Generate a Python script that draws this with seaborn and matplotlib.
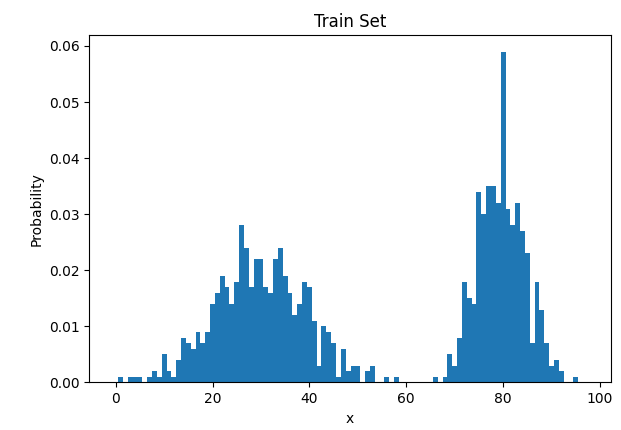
import numpy as np
import matplotlib
matplotlib.use("Agg")
import matplotlib.pyplot as plt
import seaborn as sns

# histogram of the train set, one bin per integer value (bin centres 1..95)
bin_centres = np.arange(1, 96)
probability = [
    0.001, 0.000, 0.001, 0.001, 0.001, 0.000, 0.001, 0.002, 0.001, 0.005,
    0.002, 0.001, 0.004, 0.008, 0.007, 0.006, 0.009, 0.007, 0.009, 0.014,
    0.016, 0.019, 0.017, 0.014, 0.018, 0.028, 0.024, 0.017, 0.022, 0.022,
    0.017, 0.016, 0.022, 0.024, 0.019, 0.016, 0.012, 0.014, 0.018, 0.017,
    0.011, 0.003, 0.010, 0.009, 0.007, 0.001, 0.006, 0.002, 0.003, 0.003,
    0.000, 0.002, 0.003, 0.000, 0.000, 0.001, 0.000, 0.001, 0.000, 0.000,
    0.000, 0.000, 0.000, 0.000, 0.000, 0.001, 0.000, 0.001, 0.005, 0.003,
    0.008, 0.018, 0.015, 0.014, 0.034, 0.030, 0.035, 0.035, 0.032, 0.059,
    0.031, 0.028, 0.032, 0.027, 0.023, 0.007, 0.018, 0.013, 0.007, 0.003,
    0.004, 0.002, 0.000, 0.000, 0.001,
]

plt.rc('font', size=10., family='DejaVu Sans')

fig, ax = plt.subplots(figsize=(6.21, 4.30), dpi=100)
fig.subplots_adjust(left=0.1438, right=0.984, top=0.9186, bottom=0.1105)

sns.histplot(x=bin_centres, weights=probability, binwidth=1, binrange=(0.5, 95.5),
             color='#1f77b4', alpha=1, linewidth=0, ax=ax)

ax.set_xlim(-5.45, 102.3)
ax.set_title('Train Set', fontsize=12)
ax.set_xlabel('x')
ax.set_ylabel('Probability')

fig.savefig('out.png', dpi=100)
